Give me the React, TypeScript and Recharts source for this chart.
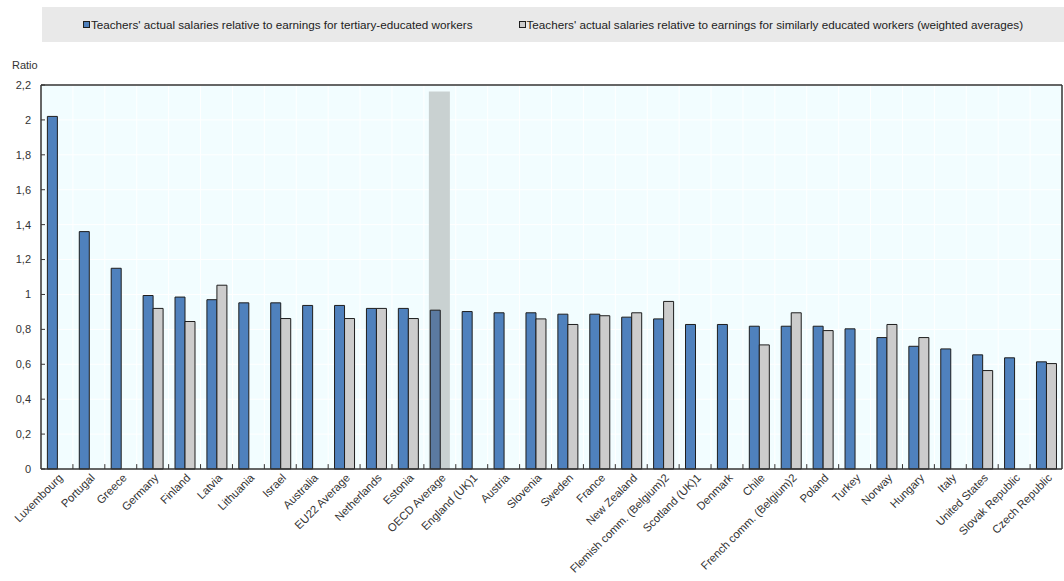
import React from 'react';
import {
  BarChart, Bar, Cell, XAxis, YAxis, CartesianGrid, ReferenceLine,
} from 'recharts';

// Teachers' salaries relative to earnings of workers.
const categories = [
  'Luxembourg', 'Portugal', 'Greece', 'Germany', 'Finland', 'Latvia', 'Lithuania', 'Israel',
  'Australia', 'EU22 Average', 'Netherlands', 'Estonia', 'OECD Average', 'England (UK)1',
  'Austria', 'Slovenia', 'Sweden', 'France', 'New Zealand', 'Flemish comm. (Belgium)2',
  'Scotland (UK)1', 'Denmark', 'Chile', 'French comm. (Belgium)2', 'Poland', 'Turkey',
  'Norway', 'Hungary', 'Italy', 'United States', 'Slovak Republic', 'Czech Republic',
];

const tertiary = [
  2.02, 1.36, 1.15, 0.994, 0.985, 0.97, 0.952, 0.952,
  0.937, 0.937, 0.92, 0.92, 0.91, 0.902,
  0.895, 0.895, 0.887, 0.887, 0.87, 0.86,
  0.828, 0.828, 0.818, 0.818, 0.818, 0.803,
  0.753, 0.703, 0.688, 0.654, 0.637, 0.614,
];

const similar: (number | null)[] = [
  null, null, null, 0.92, 0.845, 1.053, null, 0.862,
  null, 0.862, 0.92, 0.862, null, null,
  null, 0.86, 0.828, 0.878, 0.895, 0.96,
  null, null, 0.711, 0.895, 0.793, null,
  0.828, 0.753, null, 0.564, null, 0.604,
];

// shaded column behind the OECD average
const highlight: (number | null)[] = categories.map((c) => (c === 'OECD Average' ? 2.163 : null));

const yTicks = [0, 0.2, 0.4, 0.6, 0.8, 1, 1.2, 1.4, 1.6, 1.8, 2, 2.2];
const boundaryTicks = categories.slice(1).map((_, i) => i + 1);

const seriesNames = [
  "Teachers' actual salaries relative to earnings for tertiary-educated workers",
  "Teachers' actual salaries relative to earnings for similarly educated workers (weighted averages)",
];

const COLORS = {
  blue: '#4f81bd',
  blueShaded: '#5b7aa1',
  grey: '#cccccc',
  band: '#c9d1d1',
  edge: '#1e1e1e',
  axis: '#333333',
  plotBg: '#f2fdff',
  legendBg: '#e9e9e9',
  text: '#333333',
};

const FONT = '"Liberation Sans", Arial, sans-serif';
const Y_MAX = 2.2;
const TICK_LEN = 0.028; // ~5px in data units

const data = categories.map((name, i) => ({
  name,
  pos: i + 0.5,
  tertiary: tertiary[i],
  similar: similar[i],
  band: highlight[i],
}));

const fmtRatio = (v: number) => {
  const s = Number(v.toFixed(1)).toString();
  return s.replace('.', ',');
};

function CategoryTick({ x, y, payload }: any) {
  const ax = x + 1;
  const ay = y + 2;
  return (
    <text
      x={ax}
      y={ay}
      dy="0.7em"
      textAnchor="end"
      transform={`rotate(-45 ${ax} ${ay})`}
      fontSize={11.3}
      fontFamily={FONT}
      fill={COLORS.text}
    >
      {payload.value}
    </text>
  );
}

function LegendBox() {
  const item = (label: string, color: string) => (
    <div style={{ display: 'flex', alignItems: 'center' }}>
      <span
        style={{
          display: 'inline-block', width: 5, height: 5, background: color,
          border: `1px solid ${COLORS.edge}`, marginRight: 1,
        }}
      />
      <span>{label}</span>
    </div>
  );
  return (
    <div
      style={{
        position: 'absolute', left: 42, top: 7, width: 1022, height: 35,
        background: COLORS.legendBg, display: 'flex', alignItems: 'center',
        justifyContent: 'center', gap: 46, fontFamily: FONT, fontSize: 11.7,
        color: '#222', whiteSpace: 'nowrap',
      }}
    >
      {item(seriesNames[0], COLORS.blue)}
      {item(seriesNames[1], COLORS.grey)}
    </div>
  );
}

export default function App() {
  return (
    <div style={{ position: 'absolute', left: 0, top: 0, width: 1064, height: 581, background: '#fff' }}>
      <LegendBox />
      <div
        style={{
          position: 'absolute', left: 12, top: 59, fontFamily: FONT, fontSize: 11, color: COLORS.text,
        }}
      >
        Ratio
      </div>
      <BarChart
        width={1064}
        height={581}
        data={data}
        margin={{ top: 85, right: 2, left: 0, bottom: 0 }}
        barGap={0}
        barCategoryGap="20%"
      >
        <XAxis
          xAxisId="ticks"
          type="number"
          dataKey="pos"
          domain={[0, categories.length]}
          ticks={boundaryTicks}
          height={0}
          axisLine={false}
          tickLine={false}
          tickFormatter={() => ''}
        />
        <XAxis
          dataKey="name"
          height={112}
          interval={0}
          tickLine={false}
          tickSize={0}
          axisLine={{ stroke: COLORS.axis, strokeWidth: 1.5 }}
          tick={<CategoryTick />}
        />
        <XAxis xAxisId="band" dataKey="name" hide />
        <YAxis
          width={41}
          domain={[0, Y_MAX]}
          ticks={yTicks}
          interval={0}
          tickSize={-4}
          tickMargin={14}
          tickFormatter={fmtRatio}
          axisLine={{ stroke: COLORS.axis, strokeWidth: 1.5 }}
          tickLine={{ stroke: COLORS.axis }}
          tick={{ fontSize: 11, fill: COLORS.text, fontFamily: FONT }}
        />
        <CartesianGrid xAxisId="ticks" fill={COLORS.plotBg} stroke="#ffffff" strokeWidth={1} />
        <Bar
          xAxisId="band"
          dataKey="band"
          fill={COLORS.band}
          barSize={21}
          isAnimationActive={false}
        />
        <Bar
          dataKey="tertiary"
          name={seriesNames[0]}
          fill={COLORS.blue}
          stroke={COLORS.edge}
          strokeWidth={1}
          isAnimationActive={false}
        >
          {data.map((d) => (
            <Cell key={d.name} fill={d.name === 'OECD Average' ? COLORS.blueShaded : COLORS.blue} />
          ))}
        </Bar>
        <Bar
          dataKey="similar"
          name={seriesNames[1]}
          fill={COLORS.grey}
          stroke={COLORS.edge}
          strokeWidth={1}
          isAnimationActive={false}
        />
        {/* category boundary tick marks, pointing up into the plot */}
        {boundaryTicks.map((t) => (
          <ReferenceLine
            key={t}
            xAxisId="ticks"
            segment={[{ x: t, y: 0 }, { x: t, y: TICK_LEN }]}
            stroke={COLORS.axis}
            strokeWidth={1}
          />
        ))}
        {/* plot frame: top and right edges */}
        <ReferenceLine y={Y_MAX} xAxisId="ticks" stroke={COLORS.axis} strokeWidth={1.5} />
        <ReferenceLine x={categories.length} xAxisId="ticks" stroke={COLORS.axis} strokeWidth={1.5} />
      </BarChart>
    </div>
  );
}
